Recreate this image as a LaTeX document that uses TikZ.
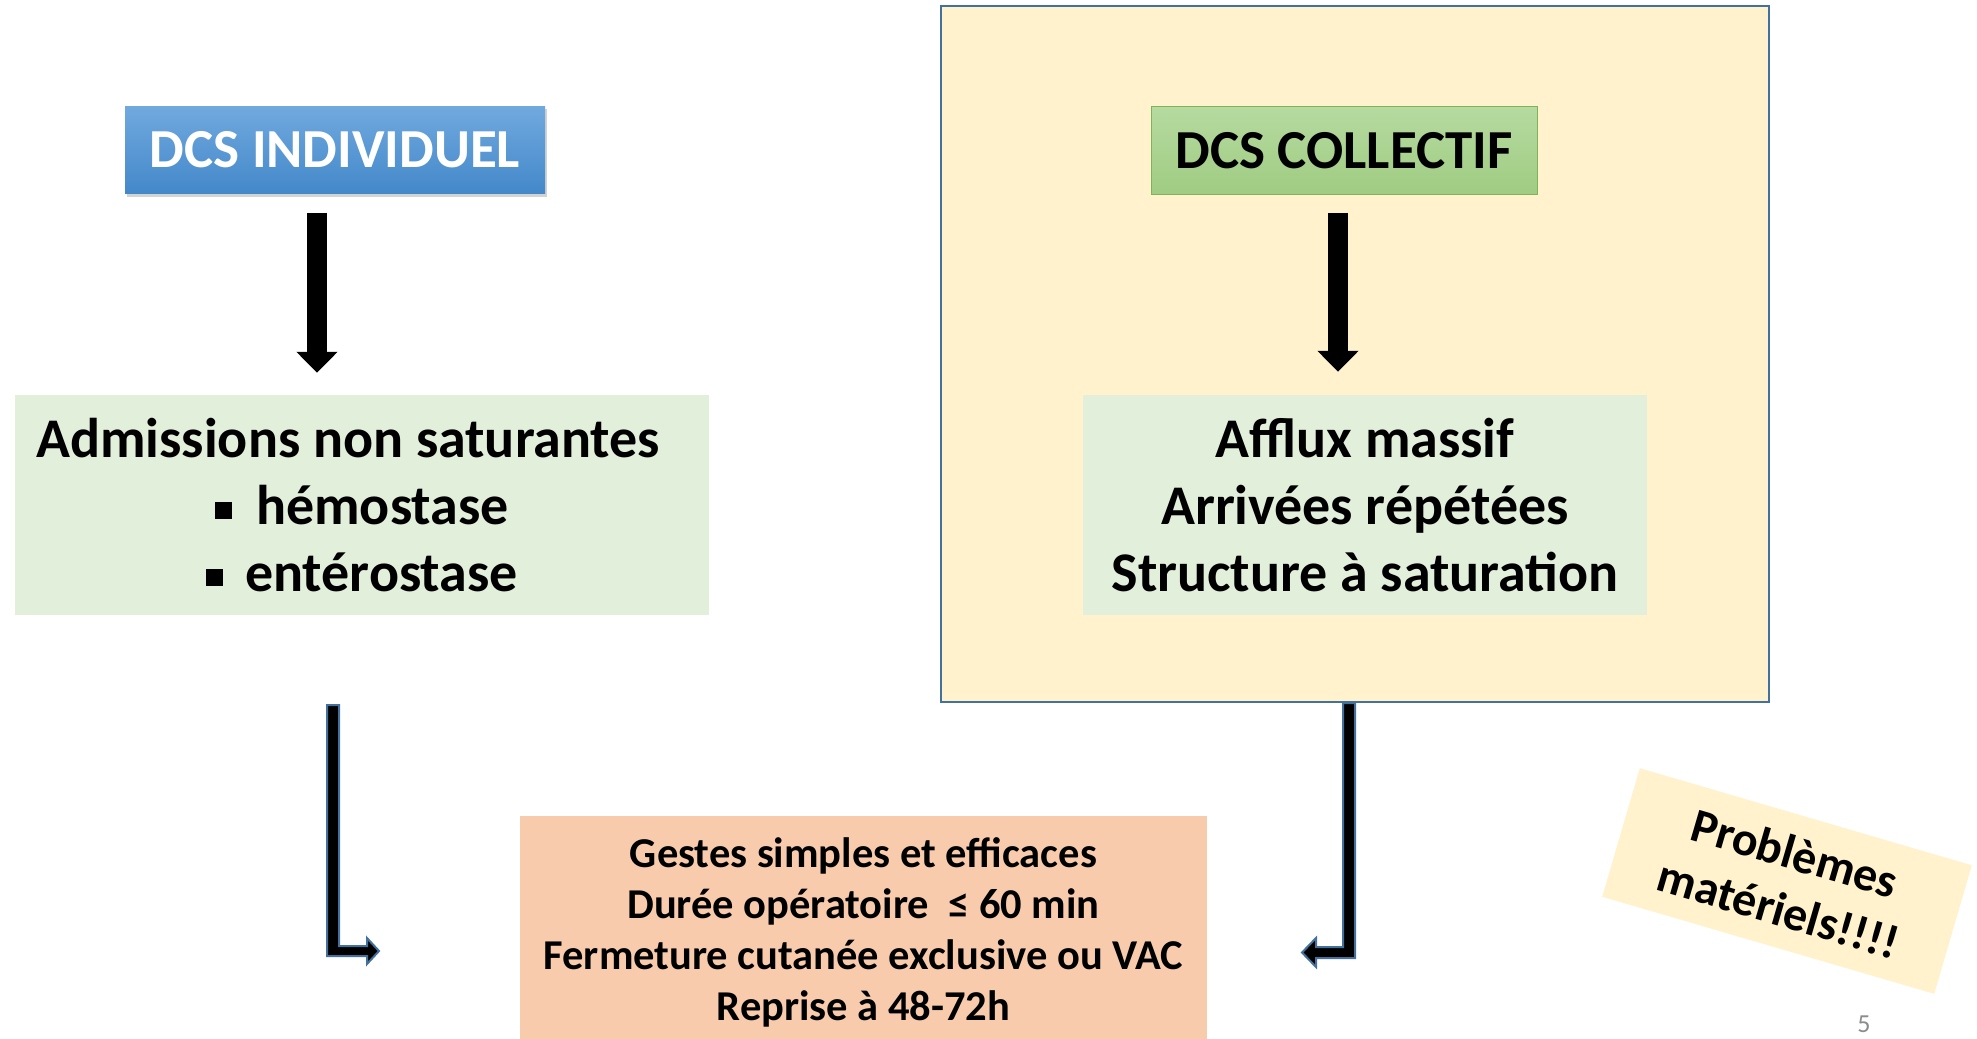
\documentclass[tikz,border=0pt]{standalone}
\usepackage{fontspec}
\setmainfont{Carlito}
\usetikzlibrary{arrows.meta,shadows}

\definecolor{indtop}{HTML}{70A9DE}
\definecolor{indbot}{HTML}{4488CA}
\definecolor{coltop}{HTML}{B6DAA0}
\definecolor{colbot}{HTML}{9FCC82}
\definecolor{colline}{HTML}{7EB35A}
\definecolor{palegreen}{HTML}{E2EFDA}
\definecolor{zonefill}{HTML}{FFF2CC}
\definecolor{zoneline}{HTML}{41719C}
\definecolor{peach}{HTML}{F8CBAD}
\definecolor{numgrey}{HTML}{8C8C8C}

\begin{document}
\begin{tikzpicture}[x=1pt,y=-1pt,
    big/.style={inner sep=0pt,align=center,font=\fontsize{56}{67}\selectfont\bfseries},
    head node/.style={big,font=\fontsize{55}{67}\selectfont\bfseries,minimum height=87pt},
    text box/.style={big,fill=palegreen,minimum height=220pt},
    down arrow/.style={line width=20pt,-{Triangle[length=21pt,width=40pt]}},
    bent arrow/.style={fill=black,draw=zoneline,line width=2pt,line join=miter}]

    \useasboundingbox (0,0) rectangle (1977,1038);

    \node[draw=zoneline,line width=2pt,fill=zonefill,minimum width=828pt,minimum height=696pt] (zone) at (1355,354) {};

    \node[head node,minimum width=420pt,top color=indtop,bottom color=indbot,text=white,
          drop shadow={shadow xshift=2pt,shadow yshift=-3pt,opacity=0.35}] (ind) at (335,150) {DCS INDIVIDUEL};
    \node[head node,minimum width=386pt,top color=coltop,bottom color=colbot,draw=colline,line width=1pt] (col) at (1344,150.5) {DCS COLLECTIF};

    \node[text box,minimum width=694pt] (adm) at (362,505) {Admissions non saturantes\hspace*{28pt}\\
        \rule[5pt]{17pt}{17pt}\hspace{24pt}hémostase\\
        \rule[5pt]{17pt}{17pt}\hspace{22pt}entérostase};
    \node[text box,minimum width=564pt] (aff) at (1365,505) {Afflux massif\\Arrivées répétées\\Structure à saturation};

    \node[big,font=\fontsize{42.5}{51}\selectfont\bfseries,fill=peach,minimum width=687pt,minimum height=232pt] (ges) at (863.5,932)
        {Gestes simples et efficaces\\Durée opératoire\ \ ≤ 60 min\\Fermeture cutanée exclusive ou VAC\\Reprise à 48-72h};

    \node[big,font=\fontsize{48}{58}\selectfont\bfseries,fill=zonefill,minimum width=346pt,minimum height=134pt,rotate=-16.3] (pb) at (1787,881)
        {Problèmes\\matériels!!!!};

    \node[text=numgrey,font=\fontsize{26}{30}\selectfont] (num) at (1864,1024) {5};

    \coordinate (la) at ([xshift=-18pt]ind.south);
    \coordinate (ra) at ([xshift=-6pt]col.south);
    \draw[down arrow,shorten <=19pt,shorten >=22pt] (la) -- (la |- adm.north);
    \draw[down arrow,shorten <=18pt,shorten >=23pt] (ra) -- (ra |- aff.north);

    \coordinate (lb) at (327,705);
    \filldraw[bent arrow] (lb) -- ++(12,0) -- ++(0,241) -- ++(28,0) -- ++(0,-8) -- ++(12,13)
        -- ++(-12,13) -- ++(0,-8) -- ++(-40,0) -- cycle;
    \filldraw[bent arrow] ([xshift=-12pt]zone.south) -- ++(12,0) -- ++(0,255) -- ++(-39,0) -- ++(0,9)
        -- ++(-14,-14.5) -- ++(14,-14.5) -- ++(0,9) -- ++(27,0) -- cycle;
\end{tikzpicture}
\end{document}
